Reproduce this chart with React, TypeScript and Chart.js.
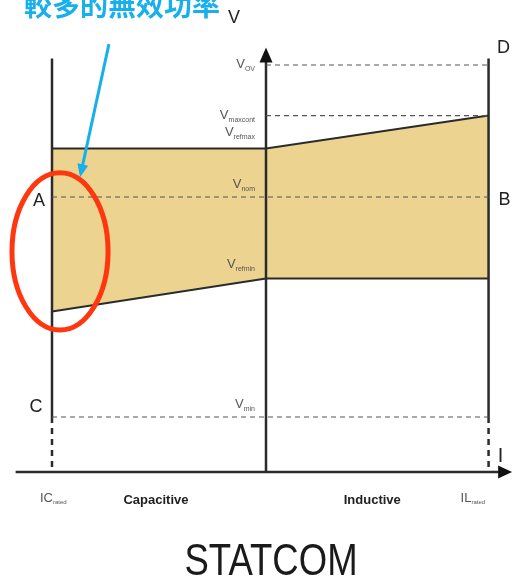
import React, { useEffect, useRef } from "react";
import { Chart, registerables } from "chart.js";

Chart.register(...registerables);

// Current axis positions (per-unit of rated current): IC rated, origin, IL rated
const currentPoints = [-1, 0, 1.04];
// Voltage band (per-unit)
const bandUpper = [1.022, 1.022, 1.037];
const bandLower = [0.948, 0.963, 0.963];
// Dashed reference levels
const levelNames = ["OV", "maxcont", "nom", "min"];
const levelValues = [1.06, 1.037, 1.0, 0.9];
const levelStarts = [0, 0, -1, -1];
// Axis extents
const axisV = 0.875;
const axisTopV = 1.068;
const limitTopV = 1.063;
const axisLeftI = -1.17;
const axisRightI = 1.15;
// Annotations
const titleText = "STATCOM";
const noteText = "較多的無效功率";
const pointLabels = ["A", "B", "C", "D"];
const regionLabels = ["Capacitive", "Inductive"];
// highlight ellipse bounds (I, V)
const ellipseI = [-1.187, -0.738];
const ellipseV = [1.011, 0.9395];
// pointer arrow from / to (I, V)
const pointerFrom = [-0.734, 1.0695];
const pointerTo = [-0.869, 1.009];

const DARK = "#2b2b2b";
const GRAY = "#555555";

function line(pts: number[][], opts: any = {}) {
  return {
    data: pts.map(([x, y]) => ({ x, y })),
    showLine: true,
    pointRadius: 0,
    borderColor: opts.color || DARK,
    borderWidth: opts.width ?? 2.5,
    borderDash: opts.dash || [],
    fill: opts.fill ?? false,
    backgroundColor: opts.bg || "transparent",
    clip: false,
    tension: 0,
    order: opts.order ?? 0,
  };
}

export default function App() {
  const ref = useRef<HTMLCanvasElement | null>(null);
  useEffect(() => {
    const canvas = ref.current!;
    const ilRated = currentPoints[2];
    const icRated = currentPoints[0];
    const datasets: any[] = [
      line(currentPoints.map((x, i) => [x, bandUpper[i]]), {
        fill: "+1",
        bg: "rgb(236, 211, 144)",
        width: 2,
        order: 10,
      }),
      line(currentPoints.map((x, i) => [x, bandLower[i]]), { width: 2, order: 9 }),
    ];
    levelValues.forEach((v, i) => {
      datasets.push(
        line([
          [levelStarts[i], v],
          [ilRated, v],
        ], { color: GRAY, width: 1.2, dash: [5, 4] })
      );
    });
    // vertical limit lines
    datasets.push(line([[icRated, limitTopV], [icRated, levelValues[3]]], { width: 2.5 }));
    datasets.push(line([[ilRated, limitTopV], [ilRated, levelValues[3]]], { width: 2.5 }));
    datasets.push(line([[icRated, levelValues[3]], [icRated, axisV]], { width: 2.5, dash: [6, 5] }));
    datasets.push(line([[ilRated, levelValues[3]], [ilRated, axisV]], { width: 2.5, dash: [6, 5] }));
    // axes
    datasets.push(line([[0, axisV], [0, axisTopV - 0.004]], { width: 2.5 }));
    datasets.push(line([[axisLeftI, axisV], [axisRightI - 0.03, axisV]], { width: 2.5 }));

    const overlay = {
      id: "overlay",
      afterDatasetsDraw(chart: any) {
        const ctx = chart.ctx as CanvasRenderingContext2D;
        const xs = chart.scales.x;
        const ys = chart.scales.y;
        const px = (v: number) => xs.getPixelForValue(v);
        const py = (v: number) => ys.getPixelForValue(v);
        ctx.save();
        // axis arrowheads
        ctx.fillStyle = "#111";
        const ax = px(0), ay = py(axisTopV);
        ctx.beginPath();
        ctx.moveTo(ax, ay);
        ctx.lineTo(ax - 6.5, ay + 15);
        ctx.lineTo(ax + 6.5, ay + 15);
        ctx.closePath();
        ctx.fill();
        const bx = px(axisRightI), by = py(axisV);
        ctx.beginPath();
        ctx.moveTo(bx, by);
        ctx.lineTo(bx - 14, by - 6.5);
        ctx.lineTo(bx - 14, by + 6.5);
        ctx.closePath();
        ctx.fill();

        const sub = (main: string, s: string, right: number, base: number) => {
          ctx.font = "13px 'Liberation Sans', Arial, sans-serif";
          const w1 = ctx.measureText(main).width;
          ctx.font = "7px 'Liberation Sans', Arial, sans-serif";
          const w2 = ctx.measureText(s).width;
          const left = right - w1 - w2;
          ctx.fillStyle = GRAY;
          ctx.textAlign = "left";
          ctx.textBaseline = "alphabetic";
          ctx.font = "13px 'Liberation Sans', Arial, sans-serif";
          ctx.fillText(main, left, base);
          ctx.font = "7px 'Liberation Sans', Arial, sans-serif";
          ctx.fillText(s, left + w1, base + 3);
        };
        const lx = px(0) - 11;
        sub("V", levelNames[0], lx, py(levelValues[0]) + 3);
        sub("V", levelNames[1], lx, py(levelValues[1]) + 3);
        sub("V", "refmax", lx, py(bandUpper[1]) - 13);
        sub("V", levelNames[2], lx, py(levelValues[2]) - 9);
        sub("V", "refmin", lx, py(bandLower[1]) - 10);
        sub("V", levelNames[3], lx, py(levelValues[3]) - 9);

        // bottom subscripts
        const subL = (main: string, s: string, left: number, base: number) => {
          ctx.fillStyle = GRAY;
          ctx.textAlign = "left";
          ctx.font = "13px 'Liberation Sans', Arial, sans-serif";
          ctx.fillText(main, left, base);
          const w = ctx.measureText(main).width;
          ctx.font = "6px 'Liberation Sans', Arial, sans-serif";
          ctx.fillText(s, left + w, base + 2);
        };
        const bottomBase = py(axisV) + 30;
        subL("IC", "rated", px(icRated) - 12, bottomBase);
        subL("IL", "rated", px(ilRated) - 28, bottomBase);

        ctx.fillStyle = "#222";
        ctx.textAlign = "center";
        ctx.font = "bold 13px 'Liberation Sans', Arial, sans-serif";
        ctx.fillText(regionLabels[0], px(icRated / 2) - 3, bottomBase + 2);
        ctx.fillText(regionLabels[1], px(ilRated / 2) - 5, bottomBase + 2);

        // point letters
        ctx.font = "18px 'Liberation Sans', Arial, sans-serif";
        ctx.textBaseline = "middle";
        ctx.fillStyle = "#222";
        ctx.fillText(pointLabels[0], px(icRated) - 13, py(levelValues[2]) + 4);
        ctx.fillText(pointLabels[1], px(ilRated) + 16, py(levelValues[2]) + 3);
        ctx.fillText(pointLabels[2], px(icRated) - 16, py(levelValues[3]) - 10);
        ctx.fillText(pointLabels[3], px(ilRated) + 15, py(limitTopV) - 10);
        ctx.font = "18px 'Liberation Sans', Arial, sans-serif";
        ctx.fillText("V", px(0) - 32, 18);
        ctx.font = "20px 'Liberation Sans', Arial, sans-serif";
        ctx.fillText("I", px(ilRated) + 12, py(axisV) - 16);

        // title
        ctx.save();
        ctx.translate(px(0) + 5, 575);
        ctx.scale(0.83, 1);
        ctx.font = "44px 'Liberation Sans', Arial, sans-serif";
        ctx.textBaseline = "alphabetic";
        ctx.textAlign = "center";
        ctx.fillStyle = "#1a1a1a";
        ctx.fillText(titleText, 0, 0);
        ctx.restore();

        // red ellipse
        const ex0 = px(ellipseI[0]), ex1 = px(ellipseI[1]);
        const ey0 = py(ellipseV[0]), ey1 = py(ellipseV[1]);
        ctx.strokeStyle = "rgb(255, 55, 15)";
        ctx.lineWidth = 5;
        ctx.beginPath();
        ctx.ellipse((ex0 + ex1) / 2, (ey0 + ey1) / 2, (ex1 - ex0) / 2, (ey1 - ey0) / 2, 0, 0, Math.PI * 2);
        ctx.stroke();

        // blue pointer
        const fx = px(pointerFrom[0]), fy = py(pointerFrom[1]);
        const tx = px(pointerTo[0]), ty = py(pointerTo[1]);
        const ang = Math.atan2(ty - fy, tx - fx);
        const blue = "rgb(24, 176, 236)";
        ctx.strokeStyle = blue;
        ctx.fillStyle = blue;
        ctx.lineWidth = 3;
        ctx.beginPath();
        ctx.moveTo(fx, fy);
        ctx.lineTo(tx - 10 * Math.cos(ang), ty - 10 * Math.sin(ang));
        ctx.stroke();
        ctx.beginPath();
        ctx.moveTo(tx, ty);
        ctx.lineTo(tx - 13 * Math.cos(ang) + 5.5 * Math.sin(ang), ty - 13 * Math.sin(ang) - 5.5 * Math.cos(ang));
        ctx.lineTo(tx - 13 * Math.cos(ang) - 5.5 * Math.sin(ang), ty - 13 * Math.sin(ang) + 5.5 * Math.cos(ang));
        ctx.closePath();
        ctx.fill();

        ctx.font = "bold 28px 'Noto Sans CJK TC', 'Noto Sans CJK SC', sans-serif";
        ctx.textAlign = "left";
        ctx.textBaseline = "alphabetic";
        ctx.fillText(noteText, 24, 16);
        ctx.restore();
      },
    };

    const chart = new Chart(canvas, {
      type: "scatter",
      data: { datasets },
      options: {
        animation: false,
        responsive: false,
        layout: { padding: { left: 9.2, right: 2.9, top: 21, bottom: 79 } },
        plugins: { legend: { display: false }, tooltip: { enabled: false }, title: { display: false } },
        scales: {
          x: { type: "linear", display: false, min: -1.2, max: 1.15 },
          y: { type: "linear", display: false, min: 0.86, max: 1.08 },
        },
      },
      plugins: [overlay],
    });
    return () => chart.destroy();
  }, []);

  return (
    <div style={{ position: "absolute", left: 0, top: 0, width: 515, height: 584, background: "#fff" }}>
      <canvas ref={ref} width={515} height={584} style={{ display: "block", width: 515, height: 584 }} />
    </div>
  );
}
